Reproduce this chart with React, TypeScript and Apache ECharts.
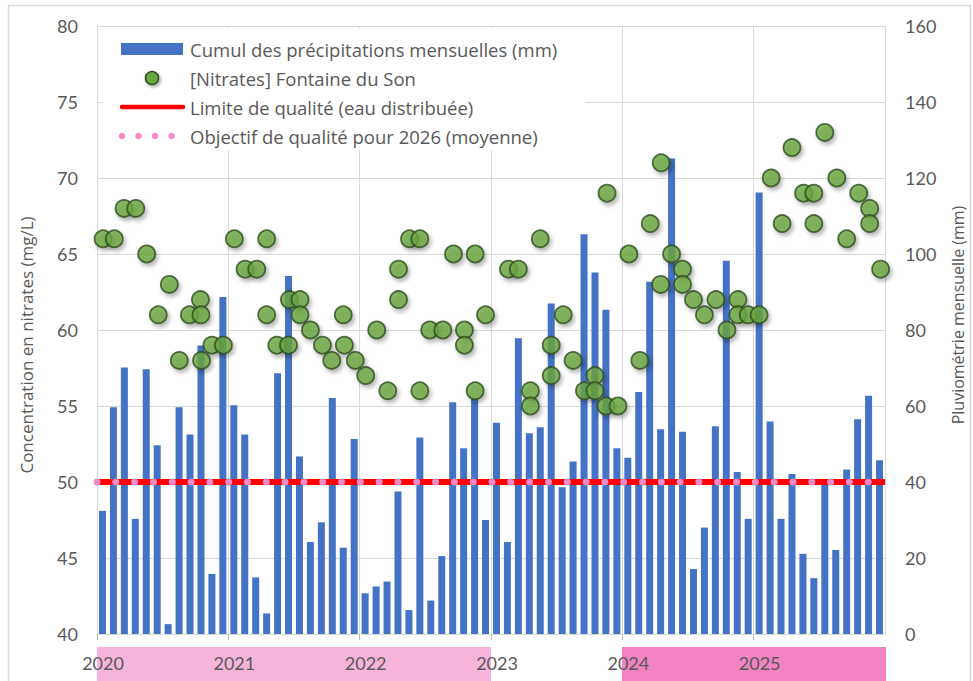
import { useEffect, useRef } from "react";
import * as echarts from "echarts";

// ---- Data ----
const yearLabels = ["2020", "2021", "2022", "2023", "2024", "2025"];

// Monthly precipitation (mm), Jan 2020 .. Dec 2025
const precipitation = [
  32.4, 59.7, 70.1, 30.3, 69.7, 49.7, 2.6, 59.7, 52.5, 75.9, 15.8, 88.7,
  60.2, 52.5, 14.9, 5.4, 68.6, 94.2, 46.7, 24.2, 29.4, 62.1, 22.7, 51.3,
  10.7, 12.5, 13.8, 37.5, 6.3, 51.7, 8.8, 20.5, 61.0, 48.9, 62.0, 30.0,
  55.6, 24.2, 77.8, 52.8, 54.4, 87.0, 38.6, 45.4, 105.2, 95.1, 85.3, 48.9,
  46.4, 63.7, 92.7, 53.9, 125.1, 53.2, 17.1, 28.0, 54.7, 98.2, 42.6, 30.3,
  116.2, 55.9, 30.3, 42.1, 21.1, 14.7, 39.5, 22.1, 43.3, 56.5, 62.7, 45.7,
];

// Nitrate samples: position in months since Jan 2020, concentration (mg/L)
const nitrateMonth = [
  0.55, 1.58, 2.47, 3.54, 4.54, 5.6, 6.61, 7.52, 8.44, 9.45, 9.5, 9.55, 10.5, 11.55,
  12.55, 13.53, 14.6, 15.5, 15.5, 16.43, 17.5, 17.58, 18.55, 18.55, 19.5, 20.6, 21.45, 22.5, 22.6, 23.6,
  24.55, 25.56, 26.57, 27.55, 27.55, 28.55, 29.5, 29.5, 30.4, 31.6, 32.57, 33.57, 33.57, 34.55, 34.55, 35.5,
  37.6, 38.5, 39.6, 39.6, 40.5, 41.5, 41.5, 42.6, 43.5, 44.54, 45.5, 45.5, 46.5, 46.6, 47.6,
  48.6, 49.6, 50.55, 51.5, 51.55, 52.5, 53.5, 53.5, 54.5, 55.5, 56.55, 57.56, 58.56, 58.56, 59.5,
  60.5, 61.6, 62.6, 63.5, 64.56, 65.5, 65.5, 66.5, 67.6, 68.5, 69.6, 70.6, 70.6, 71.6,
];
const nitrateValue = [
  66, 66, 68, 68, 65, 61, 63, 58, 61, 62, 61, 58, 59, 59,
  66, 64, 64, 66, 61, 59, 59, 62, 62, 61, 60, 59, 58, 61, 59, 58,
  57, 60, 56, 64, 62, 66, 66, 56, 60, 60, 65, 60, 59, 65, 56, 61,
  64, 64, 56, 55, 66, 59, 57, 61, 58, 56, 57, 56, 55, 69, 55,
  65, 58, 67, 63, 71, 65, 64, 63, 62, 61, 62, 60, 62, 61, 61,
  61, 70, 67, 72, 69, 69, 67, 73, 70, 66, 69, 68, 67, 64,
];

const qualityLimit = 50; // mg/L
const objective2026 = 50; // mg/L

const legendLabels = [
  "Cumul des précipitations mensuelles (mm)",
  "[Nitrates] Fontaine du Son",
  "Limite de qualité (eau distribuée)",
  "Objectif de qualité pour 2026 (moyenne)",
];

const FONT = "Lato, 'Open Sans', sans-serif";
const TEXT_FONT = "'Open Sans', Lato, sans-serif";
const GRAY = "#595959";

export default function App() {
  const ref = useRef<HTMLDivElement>(null);

  useEffect(() => {
    const chart = echarts.init(ref.current!, null, { renderer: "svg" });
    const nMonths = yearLabels.length * 12;

    const rowY = [49, 78, 107, 136];
    const legendGraphics: any[] = [
      { type: "rect", shape: { x: 103, y: 28, width: 482, height: 122 }, style: { fill: "#ffffff" }, z: 50 },
      { type: "rect", shape: { x: 121, y: rowY[0] - 6, width: 62, height: 12 }, style: { fill: "#4472C4" }, z: 51 },
      {
        type: "circle", shape: { cx: 152, cy: rowY[1], r: 6.5 },
        style: { fill: "#6AA842", stroke: "#2E4D1C", lineWidth: 1.5, shadowBlur: 3, shadowOffsetX: 1.5, shadowOffsetY: 2, shadowColor: "rgba(0,0,0,0.35)" },
        z: 51,
      },
      { type: "line", shape: { x1: 122, y1: rowY[2], x2: 183, y2: rowY[2] }, style: { stroke: "#FF0000", lineWidth: 4.5, lineCap: "round" }, z: 51 },
      ...[122, 138.5, 155, 171.5].map((cx) => ({
        type: "circle", shape: { cx, cy: rowY[3], r: 3.3 }, style: { fill: "#F28CC8" }, z: 51,
      })),
      ...legendLabels.map((t, i) => ({
        type: "text", x: 190, y: rowY[i], z: 52,
        style: { text: t, fill: GRAY, fontSize: 18.5, fontFamily: TEXT_FONT, verticalAlign: "middle", align: "left" },
      })),
    ];

    const option: any = {
      animation: false,
      backgroundColor: "#ffffff",
      grid: { left: 97, right: 88, top: 26, bottom: 47, containLabel: false },
      xAxis: {
        type: "value",
        min: 0,
        max: nMonths,
        interval: 12,
        axisLine: { show: true, lineStyle: { color: "#D9D9D9", width: 1 } },
        axisTick: { show: true, length: 6, lineStyle: { color: "#BFBFBF" } },
        splitLine: { show: true, lineStyle: { color: "#D9D9D9", width: 1 } },
        axisLabel: {
          show: true,
          margin: 20,
          color: GRAY,
          fontSize: 18,
          fontFamily: FONT,
          padding: [0, 0, 0, 12],
          showMaxLabel: false,
          formatter: (v: number) => yearLabels[Math.round(v / 12)] ?? "",
        },
      },
      yAxis: [
        {
          type: "value",
          min: 40,
          max: 80,
          interval: 5,
          position: "left",
          axisLine: { show: false },
          axisTick: { show: false },
          splitLine: { show: true, lineStyle: { color: "#D9D9D9", width: 1 } },
          axisLabel: { margin: 19, color: GRAY, fontSize: 18, fontFamily: FONT },
        },
        {
          type: "value",
          min: 0,
          max: 160,
          interval: 20,
          position: "right",
          axisLine: { show: false },
          axisTick: { show: false },
          splitLine: { show: false },
          axisLabel: { margin: 20, color: GRAY, fontSize: 18, fontFamily: FONT },
        },
      ],
      series: [
        {
          name: legendLabels[0],
          type: "bar",
          yAxisIndex: 1,
          barWidth: 7,
          itemStyle: { color: "#4472C4" },
          data: precipitation.map((v, i) => [i + 0.5, v]),
          z: 2,
        },
        {
          name: legendLabels[2],
          type: "line",
          yAxisIndex: 0,
          symbol: "none",
          lineStyle: { color: "#FF0000", width: 6 },
          data: [[0, qualityLimit], [nMonths, qualityLimit]],
          z: 3,
        },
        {
          name: legendLabels[3],
          type: "line",
          yAxisIndex: 0,
          symbol: "none",
          lineStyle: { color: "#F28CC8", width: 7, type: [0.01, 18.8], cap: "round" },
          data: [[0, objective2026], [nMonths, objective2026]],
          z: 4,
        },
        {
          name: legendLabels[1],
          type: "scatter",
          yAxisIndex: 0,
          symbol: "circle",
          symbolSize: 17,
          itemStyle: {
            color: "#6AA842",
            borderColor: "#2E4D1C",
            borderWidth: 1.8,
            shadowBlur: 4,
            shadowOffsetX: 2,
            shadowOffsetY: 3,
            shadowColor: "rgba(0,0,0,0.35)",
          },
          data: nitrateMonth.map((m, i) => [m, nitrateValue[i]]),
          z: 5,
        },
      ],
      graphic: [
        // outer frame
        { type: "rect", shape: { x: 8.5, y: 5.5, width: 962, height: 700 }, style: { fill: "none", stroke: "#D9D9D9", lineWidth: 1.5 }, z: -10, silent: true },
        // period bands under the x axis
        { type: "rect", shape: { x: 97, y: 647, width: 394, height: 40 }, style: { fill: "#F6B4DA" }, z: -5 },
        { type: "rect", shape: { x: 622, y: 647, width: 264, height: 40 }, style: { fill: "#F283C3" }, z: -5 },
        // axis titles
        {
          type: "text", x: 26, y: 345, rotation: Math.PI / 2, z: 10,
          style: { text: "Concentration en nitrates (mg/L)", fill: GRAY, fontSize: 17, fontFamily: TEXT_FONT, align: "center", verticalAlign: "middle" },
        },
        {
          type: "text", x: 958, y: 315, rotation: Math.PI / 2, z: 10,
          style: { text: "Pluviométrie mensuelle (mm)", fill: GRAY, fontSize: 16, fontFamily: TEXT_FONT, align: "center", verticalAlign: "middle" },
        },
        ...legendGraphics,
      ],
    };

    chart.setOption(option);
    return () => chart.dispose();
  }, []);

  return (
    <div
      ref={ref}
      style={{ position: "fixed", left: 0, top: 0, width: 973, height: 681, background: "#ffffff" }}
    />
  );
}
